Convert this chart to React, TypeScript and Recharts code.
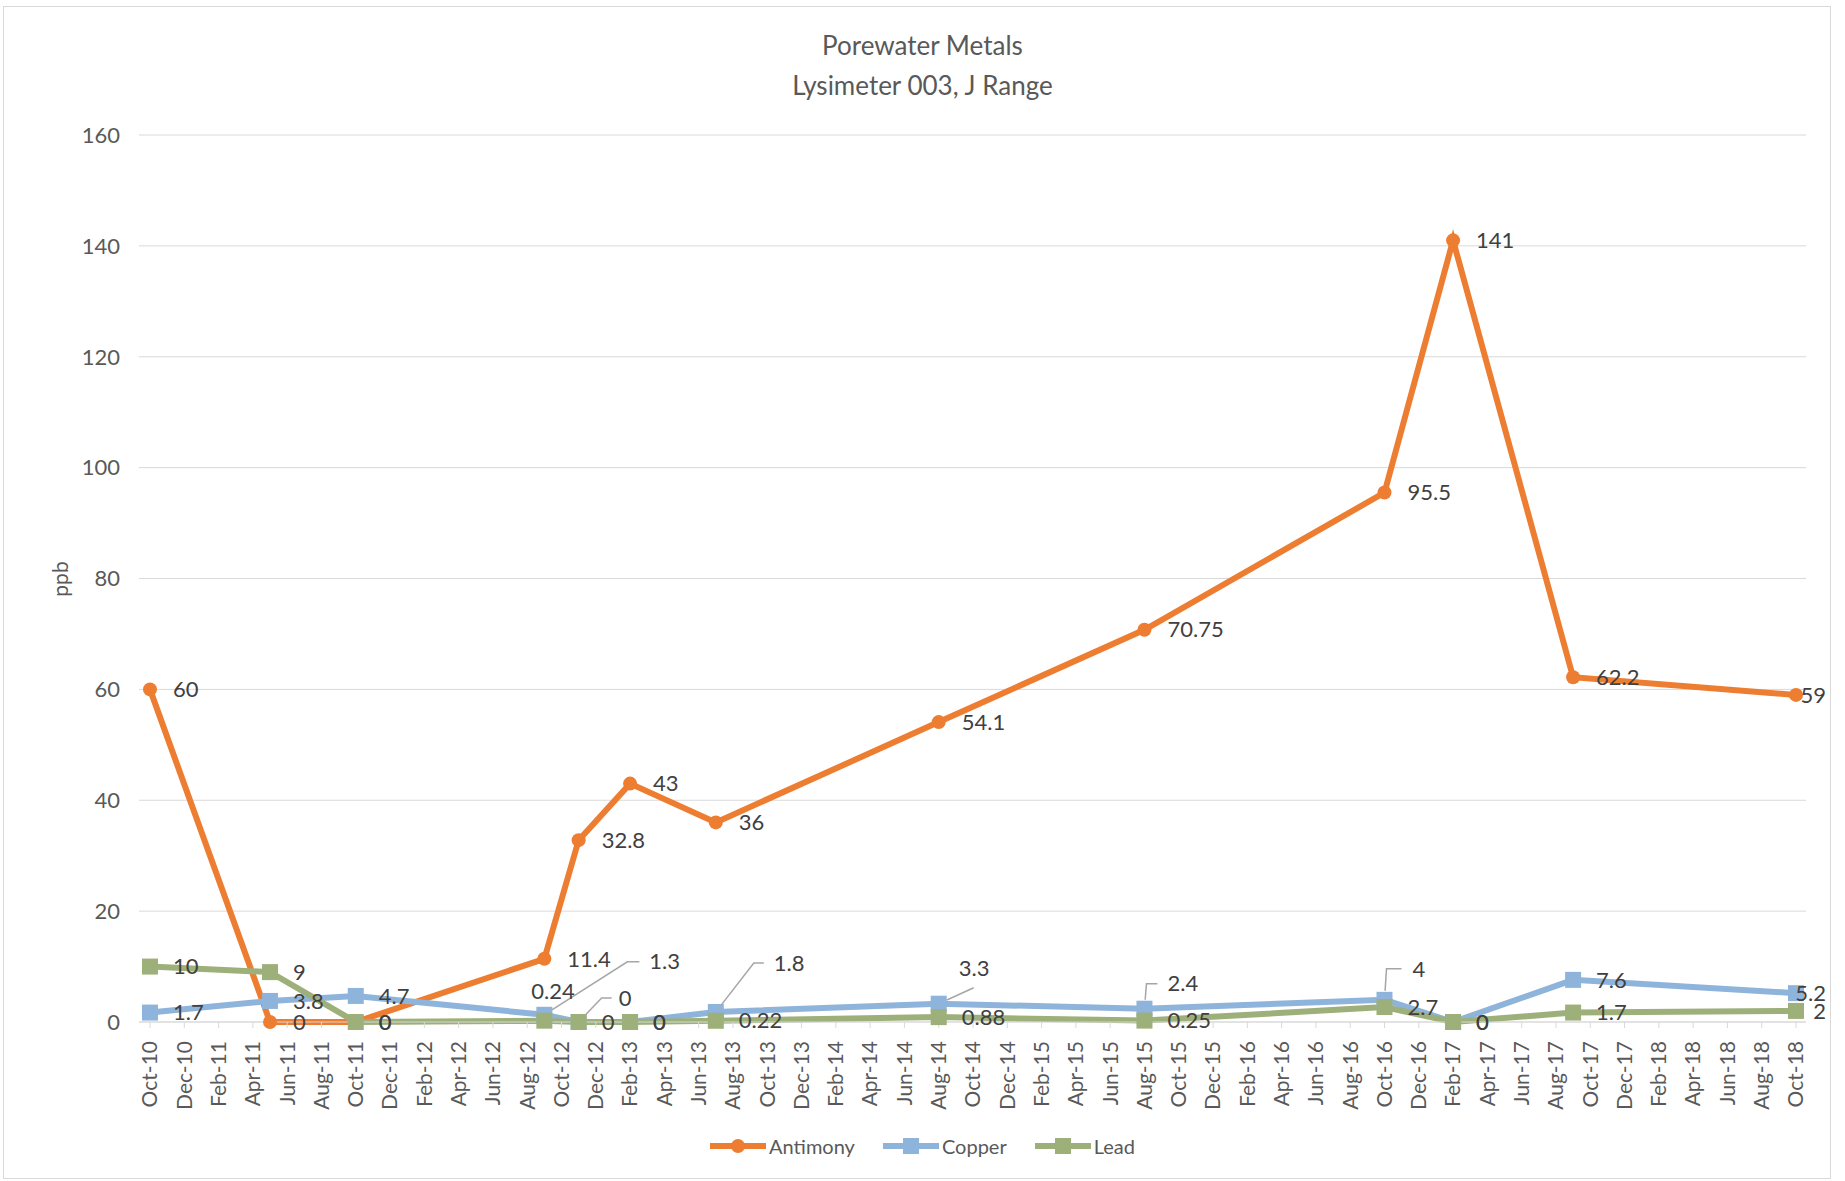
import React from "react";
import { LineChart, Line, XAxis, YAxis, CartesianGrid, LabelList } from "recharts";

// sampling months
const sampleMonths = [
  "2010-10", "2011-05", "2011-10", "2012-09", "2012-11", "2013-02", "2013-07",
  "2014-08", "2015-08", "2016-10", "2017-02", "2017-09", "2018-10",
];
const antimony = [60, 0, 0, 11.4, 32.8, 43, 36, 54.1, 70.75, 95.5, 141, 62.2, 59];
const copper = [1.7, 3.8, 4.7, 1.3, 0, 0, 1.8, 3.3, 2.4, 4, 0, 7.6, 5.2];
const lead = [10, 9, 0, 0.24, 0, 0, 0.22, 0.88, 0.25, 2.7, 0, 1.7, 2];

const xTickLabels = [
  "Oct-10", "Dec-10", "Feb-11", "Apr-11", "Jun-11", "Aug-11",
  "Oct-11", "Dec-11", "Feb-12", "Apr-12", "Jun-12", "Aug-12",
  "Oct-12", "Dec-12", "Feb-13", "Apr-13", "Jun-13", "Aug-13",
  "Oct-13", "Dec-13", "Feb-14", "Apr-14", "Jun-14", "Aug-14",
  "Oct-14", "Dec-14", "Feb-15", "Apr-15", "Jun-15", "Aug-15",
  "Oct-15", "Dec-15", "Feb-16", "Apr-16", "Jun-16", "Aug-16",
  "Oct-16", "Dec-16", "Feb-17", "Apr-17", "Jun-17", "Aug-17",
  "Oct-17", "Dec-17", "Feb-18", "Apr-18", "Jun-18", "Aug-18",
  "Oct-18",
];
const yTicks = [0, 20, 40, 60, 80, 100, 120, 140, 160];

const FONT = "Lato, 'Open Sans', sans-serif";
const ORANGE = "#ED7D31";
const BLUE = "#8FB4DB";
const GREEN = "#9DB07A";
const GRID = "#D9D9D9";

// months since Oct-10
const monthIndex = (s: string) => {
  const [y, m] = s.split("-").map(Number);
  return (y - 2010) * 12 + (m - 10);
};

const data = sampleMonths.map((d, i) => ({
  m: monthIndex(d),
  antimony: antimony[i],
  copper: copper[i],
  lead: lead[i],
}));
const xTicks = xTickLabels.map((_, i) => i * 2);

// label placement tweaks (layout only), relative to the point
type Nudge = { dx: number; dy: number; leader?: number[][] };
const nudges: Record<string, Record<number, Nudge>> = {
  antimony: {},
  copper: {
    3: { dx: 105, dy: -53, leader: [[83, -53], [95, -53]] },
    4: { dx: 40, dy: -24, leader: [[23, -24], [33, -24]] },
    6: { dx: 58, dy: -49, leader: [[38, -49], [48, -49]] },
    7: { dx: 20, dy: -35, leader: [[35, -16]] },
    8: { dx: 23, dy: -25, leader: [[2, -25], [13, -25]] },
    9: { dx: 28, dy: -31, leader: [[2, -31], [17, -31]] },
  },
  lead: {
    3: { dx: -13, dy: -29 },
  },
};

const makeLabel = (series: string) => (props: any) => {
  const x = props.x ?? props.viewBox?.x;
  const y = props.y ?? props.viewBox?.y;
  const { value, index } = props;
  if (x == null || y == null) return null;
  const last = index === sampleMonths.length - 1;
  const n = nudges[series][index];
  const style = { fontFamily: FONT, fontSize: 22, fill: "#404040" };
  if (last) {
    return (
      <text key={`${series}-l-${index}`} x={x + 30} y={y} dy="0.35em" textAnchor="end" style={style}>
        {value}
      </text>
    );
  }
  if (!n) {
    return (
      <text key={`${series}-l-${index}`} x={x + 23} y={y} dy="0.35em" textAnchor="start" style={style}>
        {value}
      </text>
    );
  }
  let path = null;
  if (n.leader) {
    const [fx, fy] = n.leader[0];
    const len = Math.hypot(fx, fy) || 1;
    const pts = [[x + (fx / len) * 9, y + (fy / len) * 9], ...n.leader.map(([a, b]) => [x + a, y + b])];
    path = (
      <polyline
        points={pts.map((p) => p.join(",")).join(" ")}
        fill="none"
        stroke="#A6A6A6"
        strokeWidth={1.5}
      />
    );
  }
  return (
    <g key={`${series}-l-${index}`}>
      {path}
      <text x={x + n.dx} y={y + n.dy} dy="0.35em" textAnchor="start" style={style}>
        {value}
      </text>
    </g>
  );
};

const squareDot = (color: string) => (props: any) => {
  const { cx, cy, index } = props;
  return <rect key={`sq-${color}-${index}`} x={cx - 8} y={cy - 8} width={16} height={16} fill={color} />;
};

const XTick = (props: any) => {
  const { x, y, payload } = props;
  return (
    <text
      x={x}
      y={y}
      dy="0.35em"
      textAnchor="end"
      transform={`rotate(-90, ${x}, ${y})`}
      style={{ fontFamily: FONT, fontSize: 21, fill: "#595959" }}
    >
      {xTickLabels[Math.round(payload.value / 2)]}
    </text>
  );
};

const legendItems = [
  { name: "Antimony", color: ORANGE, shape: "circle" },
  { name: "Copper", color: BLUE, shape: "square" },
  { name: "Lead", color: GREEN, shape: "square" },
];

export default function App() {
  return (
    <div style={{ position: "absolute", left: 0, top: 0, width: 1845, height: 1181, background: "#fff" }}>
      <div
        style={{
          position: "absolute",
          left: 3,
          top: 6,
          width: 1826,
          height: 1171,
          border: `1px solid ${GRID}`,
        }}
      />
      <div
        style={{
          position: "absolute",
          left: 0,
          top: 25,
          width: 1845,
          textAlign: "center",
          fontFamily: FONT,
          fontSize: 26,
          lineHeight: "40px",
          color: "#595959",
        }}
      >
        <div>Porewater Metals</div>
        <div>Lysimeter 003, J Range</div>
      </div>
      <div style={{ position: "absolute", left: 0, top: 0 }}>
        <LineChart width={1845} height={1181} data={data} margin={{ top: 135, right: 39, bottom: 59, left: 59 }}>
          <CartesianGrid vertical={false} stroke={GRID} />
          <XAxis
            dataKey="m"
            type="number"
            domain={[0, 96]}
            ticks={xTicks}
            interval={0}
            height={100}
            padding={{ left: 11, right: 10 }}
            axisLine={{ stroke: GRID }}
            tickLine={{ stroke: GRID }}
            tickSize={6}
            tickMargin={13}
            tick={<XTick />}
          />
          <YAxis
            domain={[0, 160]}
            ticks={yTicks}
            width={80}
            axisLine={false}
            tickLine={false}
            tickSize={0}
            tickMargin={19}
            tick={{ fontFamily: FONT, fontSize: 22, fill: "#595959" }}
            label={() => (
              <text
                x={61}
                y={579}
                textAnchor="middle"
                dy="0.35em"
                transform="rotate(-90, 61, 579)"
                style={{ fontFamily: FONT, fontSize: 21, fill: "#595959" }}
              >
                ppb
              </text>
            )}
          />
          <Line
            dataKey="antimony"
            type="linear"
            stroke={ORANGE}
            strokeWidth={6}
            dot={{ r: 7, fill: ORANGE, stroke: ORANGE, strokeWidth: 0 }}
            activeDot={false}
            isAnimationActive={false}
          >
            <LabelList dataKey="antimony" content={makeLabel("antimony")} />
          </Line>
          <Line
            dataKey="copper"
            type="linear"
            stroke={BLUE}
            strokeWidth={6}
            dot={squareDot(BLUE)}
            activeDot={false}
            isAnimationActive={false}
          >
            <LabelList dataKey="copper" content={makeLabel("copper")} />
          </Line>
          <Line
            dataKey="lead"
            type="linear"
            stroke={GREEN}
            strokeWidth={6}
            dot={squareDot(GREEN)}
            activeDot={false}
            isAnimationActive={false}
          >
            <LabelList dataKey="lead" content={makeLabel("lead")} />
          </Line>
        </LineChart>
      </div>
      <div
        style={{
          position: "absolute",
          left: 0,
          top: 1134,
          width: 1845,
          display: "flex",
          justifyContent: "center",
          gap: 28,
          fontFamily: FONT,
          fontSize: 20,
          color: "#595959",
        }}
      >
        {legendItems.map((it) => (
          <div key={it.name} style={{ display: "flex", alignItems: "center", gap: 3 }}>
            <svg width={56} height={24}>
              <line x1={0} y1={12} x2={56} y2={12} stroke={it.color} strokeWidth={6} />
              {it.shape === "circle" ? (
                <circle cx={28} cy={12} r={7} fill={it.color} />
              ) : (
                <rect x={20} y={4} width={16} height={16} fill={it.color} />
              )}
            </svg>
            <span>{it.name}</span>
          </div>
        ))}
      </div>
    </div>
  );
}
